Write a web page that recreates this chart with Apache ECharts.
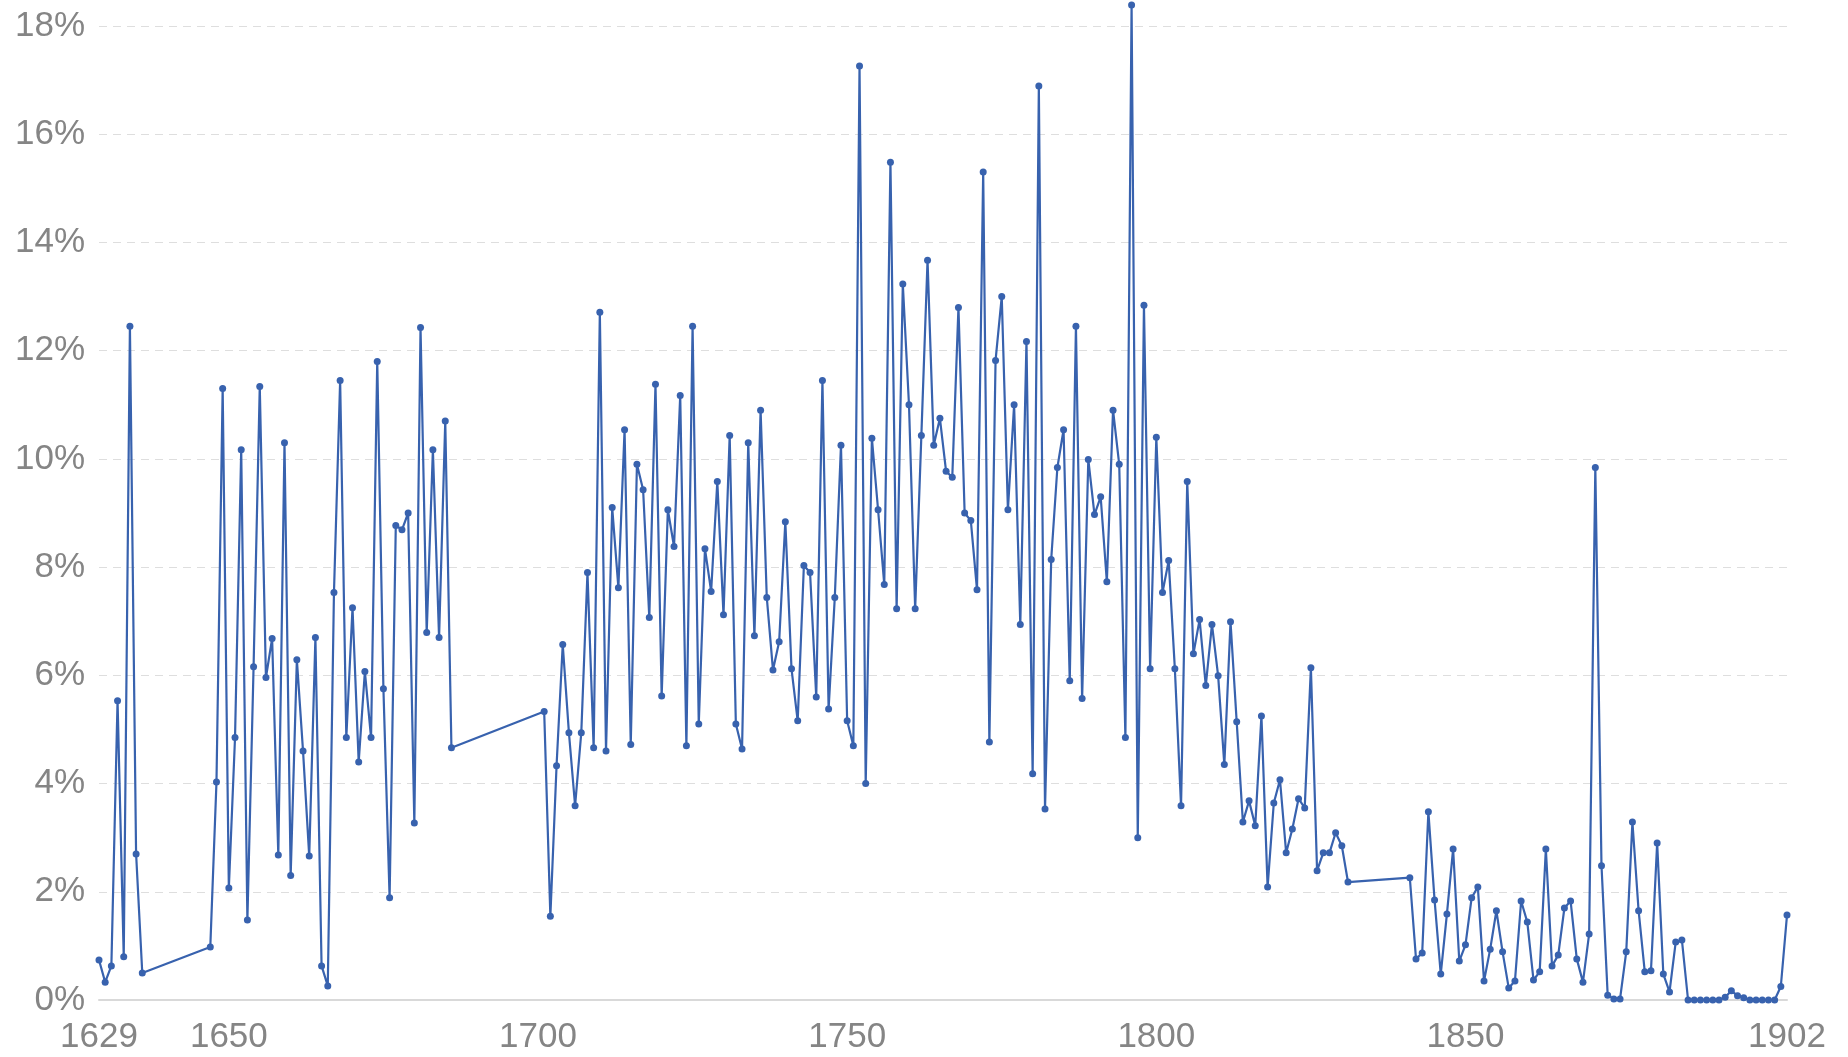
<!DOCTYPE html>
<html>
<head>
<meta charset="utf-8">
<script src="https://cdn.jsdelivr.net/npm/echarts@6/dist/echarts.min.js"></script>
<style>
html,body{margin:0;padding:0;background:#fff;}
#chart{width:1848px;height:1057px;}
</style>
</head>
<body>
<div id="chart"></div>
<script>
// Segment start years (data is annual within each segment)
const segmentStarts = [1629, 1647, 1701, 1841];

const values1629 = [0.74, 0.33, 0.63, 5.53, 0.8, 12.45, 2.7, 0.5];

const values1647 = [0.98, 4.03, 11.3, 2.07, 4.85, 10.17, 1.48, 6.16, 11.34, 5.96,
  6.68, 2.68, 10.3, 2.3, 6.29, 4.6, 2.66, 6.7, 0.63, 0.26,
  7.53, 11.45, 4.85, 7.25, 4.4, 6.07, 4.85, 11.8, 5.75, 1.89,
  8.77, 8.69, 9.0, 3.27, 12.43, 6.79, 10.17, 6.7, 10.7, 4.66];

const values1701 = [5.33, 1.55, 4.33, 6.57, 4.94, 3.59, 4.94, 7.9, 4.66, 12.71,
  4.6, 9.1, 7.62, 10.54, 4.72, 9.9, 9.43, 7.07, 11.38, 5.62,
  9.06, 8.38, 11.17, 4.7, 12.45, 5.1, 8.34, 7.55, 9.58, 7.12,
  10.43, 5.1, 4.64, 10.3, 6.73, 10.9, 7.44, 6.1, 6.62, 8.84,
  6.12, 5.16, 8.03, 7.9, 5.6, 11.45, 5.38, 7.44, 10.25, 5.16,
  4.7, 17.26, 4.0, 10.38, 9.06, 7.68, 15.48, 7.23, 13.23, 11.0,
  7.23, 10.43, 13.67, 10.25, 10.75, 9.77, 9.66, 12.8, 9.0, 8.86,
  7.58, 15.3, 4.77, 11.82, 13.0, 9.06, 11.0, 6.94, 12.17, 4.18,
  16.89, 3.53, 8.14, 9.84, 10.54, 5.9, 12.45, 5.57, 9.99, 8.97,
  9.3, 7.73, 10.9, 9.9, 4.85, 18.39, 3.0, 12.84, 6.12, 10.4,
  7.53, 8.12, 6.12, 3.59, 9.58, 6.4, 7.03, 5.81, 6.94, 5.99,
  4.35, 6.99, 5.14, 3.29, 3.68, 3.22, 5.25, 2.09, 3.64, 4.07,
  2.72, 3.16, 3.72, 3.55, 6.14, 2.39, 2.72, 2.72, 3.09, 2.85,
  2.18];

const values1841 = [2.26, 0.76, 0.87, 3.48, 1.85, 0.48, 1.59, 2.79, 0.72, 1.02,
  1.89, 2.09, 0.35, 0.94, 1.65, 0.89, 0.22, 0.35, 1.83, 1.44,
  0.37, 0.52, 2.79, 0.63, 0.83, 1.7, 1.83, 0.76, 0.33, 1.22,
  9.84, 2.48, 0.09, 0.02, 0.02, 0.89, 3.29, 1.65, 0.52, 0.54,
  2.9, 0.48, 0.15, 1.07, 1.11, 0, 0, 0, 0, 0,
  0, 0.05, 0.17, 0.08, 0.04, 0, 0, 0, 0, 0,
  0.25, 1.57];

const xTickLabels = [1629, 1650, 1700, 1750, 1800, 1850, 1902];
const yTicks = [0, 2, 4, 6, 8, 10, 12, 14, 16, 18];

const segments = [values1629, values1647, values1701, values1841];
const points = [];
segments.forEach((vals, i) => {
  vals.forEach((v, j) => points.push([segmentStarts[i] + j, v]));
});

const chart = echarts.init(document.getElementById('chart'));
const labelColor = '#858585';
chart.setOption({
  animation: false,
  backgroundColor: '#ffffff',
  grid: { left: 99, right: 61, top: 26, bottom: 57 },
  xAxis: {
    type: 'value',
    min: xTickLabels[0],
    max: xTickLabels[xTickLabels.length - 1],
    splitLine: { show: false },
    axisLine: { show: true, lineStyle: { color: '#d9d9d9', width: 2 } },
    axisTick: { show: false },
    axisLabel: {
      customValues: xTickLabels,
      formatter: v => String(v),
      color: labelColor,
      fontFamily: 'Liberation Sans, Arial, sans-serif',
      fontSize: 35,
      margin: 20
    }
  },
  yAxis: {
    type: 'value',
    min: yTicks[0],
    max: yTicks[yTicks.length - 1],
    interval: 2,
    axisLine: { show: false },
    axisTick: { show: false },
    splitLine: { show: true, lineStyle: { color: '#dedede', type: [8, 6], width: 1 } },
    axisLabel: {
      formatter: '{value}%',
      color: labelColor,
      fontFamily: 'Liberation Sans, Arial, sans-serif',
      fontSize: 35,
      margin: 14
    }
  },
  series: [{
    type: 'line',
    data: points,
    clip: false,
    symbol: 'circle',
    symbolSize: 7,
    showAllSymbol: true,
    lineStyle: { color: '#3862ae', width: 2.2 },
    itemStyle: { color: '#3862ae' }
  }]
});
</script>
</body>
</html>
